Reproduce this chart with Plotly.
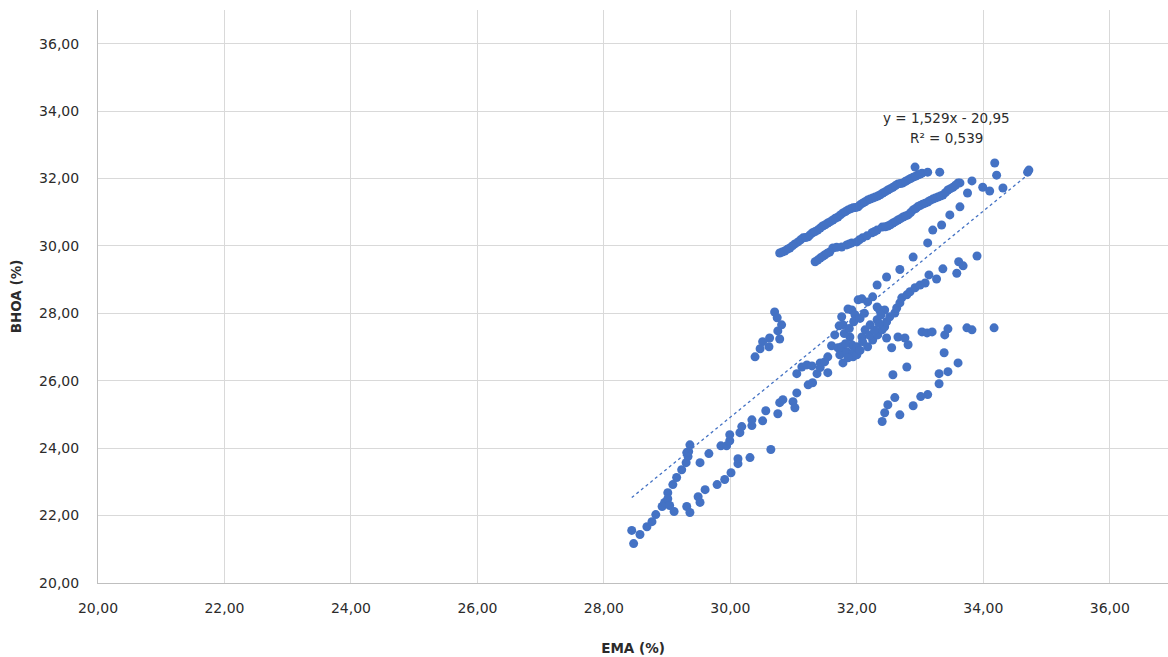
import plotly.graph_objects as go

# EMA (%) vs BHOA (%) measurements, grouped by region of the cloud
low_x = [28.44, 28.47, 28.57, 28.68, 28.76, 28.82, 28.92, 28.96, 29.01, 29.09,
         29.15, 29.23, 29.30, 29.33, 29.34, 29.36, 29.01, 29.04, 29.11, 29.31,
         29.36, 29.49, 29.52, 29.60, 29.79, 29.91, 30.01, 30.12, 30.31, 30.64,
         29.52, 29.66, 29.85, 29.94, 29.99, 29.99, 30.15, 30.18, 30.34, 30.51,
         29.31, 30.12]
low_y = [21.56, 21.17, 21.44, 21.67, 21.82, 22.03, 22.27, 22.39, 22.68, 22.92,
         23.13, 23.36, 23.57, 23.75, 23.90, 24.10, 22.50, 22.30, 22.12, 22.27,
         22.09, 22.56, 22.39, 22.77, 22.92, 23.07, 23.27, 23.54, 23.72, 23.96,
         23.57, 23.84, 24.07, 24.07, 24.22, 24.40, 24.46, 24.64, 24.67, 24.81,
         23.87, 23.69]

mid_x = [30.34, 30.56, 30.75, 30.78, 30.83, 30.99, 31.02, 31.05, 31.23, 31.30,
         31.05, 31.13, 31.21, 31.29, 31.37, 31.42, 31.42, 31.49, 31.54, 31.54,
         31.60, 31.65, 31.72, 31.76, 31.86, 31.92, 31.97, 32.02, 31.78, 31.78,
         31.70, 31.73, 31.76, 31.84, 31.89, 31.92, 31.94, 31.94, 32.00, 32.00,
         31.86, 31.78, 32.08, 32.09, 32.13, 32.17, 32.21, 32.25, 32.33, 32.40,
         32.44, 32.47, 32.52, 32.60, 32.63, 32.68, 32.71, 32.79, 32.84, 32.92,
         33.00, 33.08, 32.08, 32.17, 32.25, 32.32, 32.36, 32.44, 32.32, 32.47,
         32.55, 32.65, 32.76, 32.81, 32.79, 32.57, 33.03, 33.11, 33.19, 33.39,
         33.44, 33.74, 33.82, 34.17, 33.38, 33.60, 33.44, 33.30, 33.30, 33.12,
         33.01, 32.89, 32.68, 32.60, 32.49, 32.44, 32.40, 32.32,
         31.80, 31.88, 31.95, 32.05, 32.12, 31.82, 32.05, 32.20, 32.28, 32.35,
         32.38]
mid_y = [24.84, 25.11, 25.02, 25.35, 25.44, 25.38, 25.20, 25.64, 25.88, 25.94,
         26.21, 26.41, 26.47, 26.44, 26.21, 26.53, 26.39, 26.56, 26.71, 26.24,
         27.04, 27.36, 27.63, 27.90, 28.13, 28.10, 27.96, 28.40, 26.53, 26.83,
         26.98, 26.77, 27.01, 26.86, 27.30, 27.07, 26.83, 26.71, 26.77, 27.01,
         26.68, 27.66, 27.30, 27.16, 27.51, 27.01, 27.66, 27.21, 27.36, 27.51,
         27.60, 27.75, 27.90, 28.01, 28.16, 28.31, 28.46, 28.55, 28.64, 28.76,
         28.84, 28.90, 28.43, 28.34, 28.49, 28.19, 28.10, 28.10, 27.81, 27.27,
         26.98, 27.30, 27.27, 27.07, 26.41, 26.18, 27.45, 27.42, 27.45, 27.36,
         27.54, 27.57, 27.51, 27.57, 26.83, 26.53, 26.27, 26.21, 25.91, 25.59,
         25.53, 25.26, 24.99, 25.50, 25.29, 25.05, 24.79, 28.84,
         27.40, 27.55, 27.75, 27.85, 28.00, 27.10, 26.90, 27.35, 27.50, 27.70,
         27.95]

hook_x = [30.70, 30.74, 30.81, 30.75, 30.78, 30.62, 30.61, 30.51, 30.47, 30.39]
hook_y = [28.04, 27.87, 27.66, 27.48, 27.24, 27.27, 27.01, 27.16, 26.95, 26.71]

band1_x = [30.78, 30.86, 30.94, 31.02, 31.07, 31.15, 31.23, 31.30, 31.38, 31.46,
           31.54, 31.62, 31.70, 31.78, 31.86, 31.94, 32.02, 32.09, 32.17, 32.25,
           32.33, 32.41, 32.49, 32.57, 32.65, 32.73, 32.81, 32.89, 32.96, 33.03,
           32.92, 33.12, 33.31,
           30.82, 30.90, 30.98, 31.11, 31.19, 31.26, 31.34, 31.42, 31.50, 31.58,
           31.66, 31.74, 31.82, 31.90, 31.98, 32.05, 32.13, 32.21, 32.29, 32.37,
           32.45, 32.53, 32.61, 32.69, 32.77, 32.85, 32.93, 33.00]
band1_y = [29.79, 29.85, 29.94, 30.06, 30.12, 30.24, 30.27, 30.39, 30.47, 30.59,
           30.68, 30.77, 30.86, 30.98, 31.07, 31.13, 31.16, 31.27, 31.36, 31.42,
           31.48, 31.57, 31.66, 31.74, 31.84, 31.87, 31.96, 32.04, 32.10, 32.16,
           32.34, 32.19, 32.19,
           29.82, 29.90, 30.00, 30.18, 30.25, 30.33, 30.43, 30.53, 30.63, 30.72,
           30.82, 30.92, 31.02, 31.10, 31.14, 31.22, 31.31, 31.39, 31.45, 31.52,
           31.61, 31.70, 31.79, 31.85, 31.92, 32.00, 32.07, 32.13]

band2_x = [31.34, 31.42, 31.49, 31.57, 31.62, 31.76, 31.84, 31.92, 32.00, 32.09,
           32.24, 32.32, 32.40, 32.49, 32.57, 32.65, 32.73, 32.81, 32.89, 32.96,
           33.04, 33.12, 33.20, 33.28, 33.36, 33.44, 33.52, 33.60, 33.63, 33.82,
           33.99, 34.10, 34.31, 34.18, 34.21, 34.70, 34.72,
           31.38, 31.46, 31.53, 31.68, 31.88, 32.04, 32.16, 32.28, 32.45, 32.53,
           32.61, 32.69, 32.77, 32.85, 32.93, 33.00, 33.08, 33.16, 33.24, 33.32,
           33.40, 33.48, 33.56]
band2_y = [29.53, 29.64, 29.73, 29.82, 29.94, 29.97, 30.03, 30.09, 30.12, 30.24,
           30.39, 30.47, 30.56, 30.59, 30.68, 30.77, 30.86, 30.92, 31.07, 31.16,
           31.24, 31.30, 31.39, 31.45, 31.51, 31.66, 31.74, 31.87, 31.87, 31.93,
           31.74, 31.63, 31.72, 32.46, 32.10, 32.19, 32.25,
           29.58, 29.69, 29.78, 29.96, 30.06, 30.18, 30.30, 30.43, 30.57, 30.63,
           30.72, 30.81, 30.89, 30.99, 31.11, 31.20, 31.27, 31.35, 31.42, 31.48,
           31.58, 31.70, 31.80]

band3_x = [32.47, 32.68, 32.89, 33.12, 33.20, 33.34, 33.47, 33.63, 33.75,
           33.36, 33.61, 33.68, 33.58, 33.90, 33.26, 33.14]
band3_y = [29.08, 29.30, 29.67, 30.09, 30.47, 30.62, 30.92, 31.16, 31.57,
           29.32, 29.53, 29.41, 29.19, 29.70, 29.02, 29.14]

ema = low_x + mid_x + hook_x + band1_x + band2_x + band3_x
bhoa = low_y + mid_y + hook_y + band1_y + band2_y + band3_y

# Linear trend as reported in the equation label
slope, intercept, r2 = 1.529, -20.95, 0.539
trend_x = [min(ema), max(ema)]
trend_y = [slope * v + intercept for v in trend_x]

ticks = [20, 22, 24, 26, 28, 30, 32, 34, 36]
blue = "#4472C4"
font = "DejaVu Sans"
text_color = "#2b2b2b"

fig = go.Figure()
fig.add_trace(go.Scatter(
    x=ema, y=bhoa, mode="markers",
    marker=dict(color=blue, size=9, line=dict(width=0)),
    showlegend=False, hoverinfo="x+y"))
fig.add_trace(go.Scatter(
    x=trend_x, y=trend_y, mode="lines",
    line=dict(color=blue, width=1.3, dash="dot"),
    showlegend=False, hoverinfo="skip"))

fig.add_annotation(x=33.42, y=33.79, text="y = 1,529x - 20,95", showarrow=False,
                   font=dict(family=font, size=13.5, color=text_color))
fig.add_annotation(x=33.42, y=33.20, text="R² = 0,539", showarrow=False,
                   font=dict(family=font, size=13.5, color=text_color))

axis_common = dict(
    tickvals=ticks, tickformat=".2f",
    showgrid=True, gridcolor="#D9D9D9", gridwidth=1,
    showline=True, linecolor="#BFBFBF", linewidth=1,
    zeroline=False, ticks="outside", tickcolor="rgba(0,0,0,0)",
    tickfont=dict(family=font, size=14, color=text_color),
)

fig.update_xaxes(range=[20, 36.92], ticklen=12,
                 title=dict(text="<b>EMA (%)</b>", standoff=28,
                            font=dict(family=font, size=13.5, color=text_color)),
                 **axis_common)
fig.update_yaxes(range=[20, 37], ticklen=15,
                 title=dict(text="<b>BHOA (%)</b>", standoff=14,
                            font=dict(family=font, size=13.5, color=text_color)),
                 **axis_common)

fig.update_layout(
    width=1168, height=657,
    margin=dict(l=98, r=0, t=10, b=74),
    plot_bgcolor="white", paper_bgcolor="white",
    separators=", ",
)

fig.write_html("out.html")
